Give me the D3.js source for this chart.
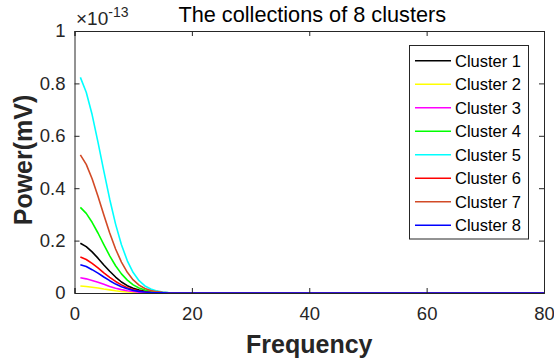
<!DOCTYPE html>
<html><head><meta charset="utf-8">
<script src="https://cdn.jsdelivr.net/npm/d3@7"></script>
<style>body{margin:0;background:#fff}svg{display:block}text{font-family:"Liberation Sans",Arial,Helvetica,sans-serif}</style>
</head><body>
<svg id="c" width="554" height="363"></svg>
<script>
// Values are in units of 1e-13 mV
const frequency = [1,2,3,4,5,6,7,8,9,10,11,12,13,14,15,16,17,18,19,20,30,40,50,60,70,80];
const cluster1 = [0.190,0.177,0.157,0.133,0.107,0.083,0.061,0.042,0.028,0.018,0.011,0.0063,0.0035,0.0018,0.0009,0.0004,0.0002,0.0001,0,0,0,0,0,0,0,0];
const cluster2 = [0.027,0.025,0.022,0.019,0.015,0.012,0.0086,0.006,0.004,0.0026,0.0015,0.0009,0.0005,0.0003,0.0001,0,0,0,0,0,0,0,0,0,0,0];
const cluster3 = [0.058,0.054,0.048,0.041,0.033,0.025,0.0185,0.0129,0.0086,0.0055,0.0033,0.0019,0.0011,0.0006,0.0003,0.0001,0,0,0,0,0,0,0,0,0,0];
const cluster4 = [0.327,0.304,0.270,0.229,0.185,0.142,0.104,0.073,0.049,0.031,0.019,0.011,0.006,0.003,0.0016,0.0008,0.0003,0.0002,0.0001,0,0,0,0,0,0,0];
const cluster5 = [0.823,0.766,0.681,0.576,0.465,0.358,0.263,0.184,0.123,0.078,0.047,0.027,0.015,0.008,0.004,0.002,0.001,0.0004,0.0002,0,0,0,0,0,0,0];
const cluster6 = [0.137,0.128,0.113,0.096,0.077,0.060,0.044,0.031,0.020,0.013,0.0079,0.0045,0.0025,0.0013,0.0007,0.0003,0.0001,0.0001,0,0,0,0,0,0,0,0];
const cluster7 = [0.527,0.491,0.436,0.369,0.298,0.229,0.168,0.118,0.079,0.050,0.030,0.017,0.0096,0.0051,0.0025,0.0012,0.0006,0.0002,0.0001,0,0,0,0,0,0,0];
const cluster8 = [0.108,0.101,0.089,0.076,0.061,0.047,0.034,0.024,0.016,0.010,0.0062,0.0036,0.002,0.001,0.0005,0.0002,0.0001,0,0,0,0,0,0,0,0,0];
const seriesNames = ["Cluster 1","Cluster 2","Cluster 3","Cluster 4","Cluster 5","Cluster 6","Cluster 7","Cluster 8"];
const seriesValues = [cluster1,cluster2,cluster3,cluster4,cluster5,cluster6,cluster7,cluster8];
const seriesColors = ["#000000","#ffff00","#ff00ff","#00ff00","#00ffff","#ff0000","#d24a26","#0000ff"];
const xTicks = [0,20,40,60,80];
const yTicks = [0,0.2,0.4,0.6,0.8,1];
const yTickLabels = ["0","0.2","0.4","0.6","0.8","1"];

const svg = d3.select("#c");
const L = 74.5, R = 544, T = 31, B = 293;
const x = d3.scaleLinear().domain([0,80]).range([L,R]);
const y = d3.scaleLinear().domain([0,1]).range([B,T]);
const axc = "#262626";

const g = svg.append("g");
const line = d3.line().x((d,i)=>x(frequency[i])).y(d=>y(d));
seriesValues.forEach((vals,k)=>{
  g.append("path").attr("d", line(vals)).attr("fill","none")
   .attr("stroke", seriesColors[k]).attr("stroke-width",1.6).attr("stroke-linejoin","round");
});

const xa = d3.axisBottom(x).tickValues(xTicks).tickSize(-5).tickPadding(14).tickFormat(d3.format("d"));
const xg = svg.append("g").attr("transform",`translate(0,${B})`).call(xa);
const xt = svg.append("g").attr("transform",`translate(0,${T})`).call(d3.axisTop(x).tickValues(xTicks).tickSize(-5).tickFormat(""));
const ya = d3.axisLeft(y).tickValues(yTicks).tickSize(-5).tickPadding(9).tickFormat((d,i)=>yTickLabels[i]);
const yg = svg.append("g").attr("transform",`translate(${L},0)`).call(ya);
const yr = svg.append("g").attr("transform",`translate(${R},0)`).call(d3.axisRight(y).tickValues(yTicks).tickSize(-5).tickFormat(""));
[xg,xt,yg,yr].forEach(a=>{
  a.select(".domain").attr("stroke",axc).attr("stroke-width",1);
  a.selectAll(".tick line").attr("stroke",axc);
  a.selectAll("text").attr("fill",axc).style("font-size","18.5px").style("font-family",'"Liberation Sans",Arial,sans-serif');
});

const ex = svg.append("text").attr("x",76).attr("y",25).attr("fill",axc).style("font-size","19px");
ex.append("tspan").text("×10");
ex.append("tspan").attr("dy",-8).style("font-size","14px").text("-13");

svg.append("text").attr("x",(L+R)/2+3).attr("y",22).attr("text-anchor","middle").attr("fill","#000")
  .style("font-size","21.7px").text("The collections of 8 clusters");
svg.append("text").attr("x",(L+R)/2).attr("y",353).attr("text-anchor","middle").attr("fill",axc)
  .style("font-size","25px").style("font-weight","bold").text("Frequency");
svg.append("text").attr("transform",`translate(32,160) rotate(-90)`).attr("text-anchor","middle").attr("fill",axc)
  .style("font-size","25px").style("font-weight","bold").text("Power(mV)");

const lg = svg.append("g");
lg.append("rect").attr("x",409.5).attr("y",45.5).attr("width",119).attr("height",193.5)
  .attr("fill","#fff").attr("stroke",axc).attr("stroke-width",1);
seriesNames.forEach((n,k)=>{
  const yy = 60.7 + k*23.5;
  lg.append("line").attr("x1",415).attr("x2",451).attr("y1",yy).attr("y2",yy)
    .attr("stroke",seriesColors[k]).attr("stroke-width",1.6);
  lg.append("text").attr("x",455).attr("y",yy).attr("dy","0.36em").attr("fill","#000")
    .style("font-size","16.5px").text(n);
});
</script>
</body></html>
